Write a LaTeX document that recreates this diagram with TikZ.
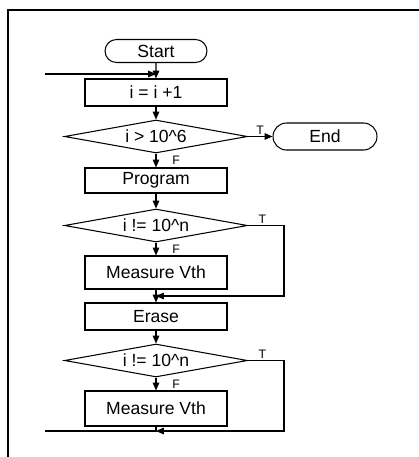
\documentclass[tikz,border=0pt]{standalone}
\usepackage{fontspec}
\setmainfont{Liberation Sans}
\usetikzlibrary{shapes.geometric,shapes.misc,arrows.meta,positioning,calc}

\begin{document}
\begin{tikzpicture}[x=0.02cm,y=-0.02cm,line width=0.6pt,
    >={Triangle[length=4.5pt,width=3.8pt]},
    box/.style={draw,rectangle,minimum width=2.84cm,inner sep=0pt},
    term/.style={draw,rounded rectangle,inner sep=0pt},
    test/.style={draw,diamond,aspect=5.5,inner sep=0pt,minimum width=3.66cm,minimum height=0.66cm},
    lbl/.style={font=\fontsize{7}{8}\selectfont,inner sep=1pt}]
    \useasboundingbox (0,0) rectangle (419,457);
    % frame
    \draw[line width=1.1pt] (8,457) -- (8,10) -- (419,10);

    \node[term,minimum width=2.04cm,minimum height=0.46cm] (start) at (156,51) {Start};
    \node[box,minimum height=0.54cm] (inc) at (156,92.5) {i = i +1};
    \node[test] (d1) at (156,136.5) {i > 10\textasciicircum 6};
    \node[term,minimum width=2.08cm,minimum height=0.54cm] (end) at (325,136.5) {End};
    \node[box,minimum height=0.5cm] (prog) at (156,180.5) {Program};
    \node[test] (d2) at (156,225.5) {i != 10\textasciicircum n};
    \node[box,minimum height=0.66cm] (mv1) at (156,272.5) {Measure Vth};
    \node[box,minimum height=0.54cm] (erase) at (156,316.5) {Erase};
    \node[test] (d3) at (156,360.5) {i != 10\textasciicircum n};
    \node[box,minimum height=0.7cm] (mv2) at (156,408.5) {Measure Vth};

    \coordinate (inL) at (45,74);
    \coordinate (r1) at (284,296);
    \coordinate (r2) at (284,431);
    \coordinate (outL) at (45,431);

    % main line
    \draw[->] (start) -- (inc);
    \draw[->] (inL) -- (inL -| inc);
    \draw[->] (inc) -- (d1);
    \draw[->] (d1) -- node[lbl,above] {T} (end);
    \draw[->] (d1) -- node[lbl,anchor=west,xshift=8pt] {F} (prog);
    \draw[->] (prog) -- (d2);
    \draw[->] (d2) -- node[lbl,anchor=west,xshift=8pt] {F} (mv1);
    \draw[->] (mv1) -- (erase);
    \draw[->] (erase) -- (d3);
    \draw[->] (d3) -- node[lbl,anchor=west,xshift=8pt] {F} (mv2);

    % loops
    \draw[->] (d2.east) -- node[lbl,above,pos=0.4] {T} (d2.east -| r1) -- (r1) -- (r1 -| erase);
    \draw[->] (d3.east) -- node[lbl,above,pos=0.4] {T} (d3.east -| r2) -- (r2) -- (r2 -| mv2);
    \draw (mv2) -- (mv2 |- outL) -- (outL);
\end{tikzpicture}
\end{document}
